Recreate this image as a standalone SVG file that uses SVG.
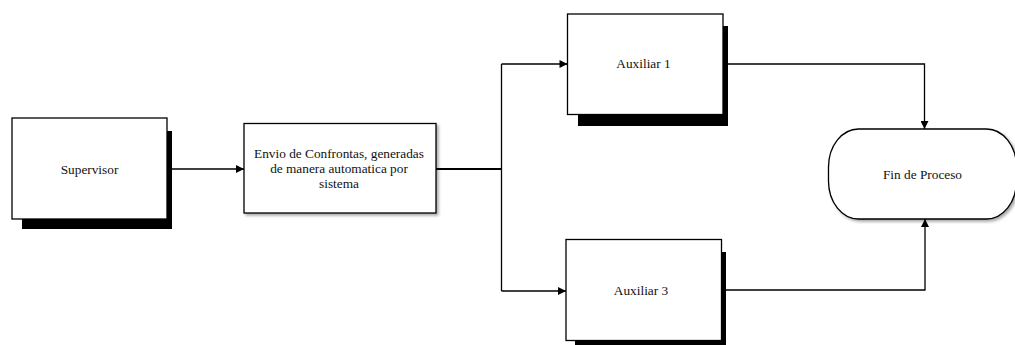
<svg xmlns="http://www.w3.org/2000/svg" width="1015" height="345" viewBox="0 0 1015 345">
  <style>
    .box { fill: #ffffff; stroke: #000000; stroke-width: 1.3; }
    .shadow { fill: #000000; }
    .label { font-family: "Liberation Serif", "Times New Roman", serif; font-size: 13.3px; fill: #111111; text-anchor: middle; }
    .wire { fill: none; stroke: #000000; stroke-width: 1.3; }
    .wire-bold { fill: none; stroke: #000000; stroke-width: 2; }
  </style>
  <defs>
    <marker id="arrow" viewBox="0 0 10 10" refX="10" refY="5" markerUnits="userSpaceOnUse" markerWidth="9" markerHeight="8" orient="auto">
      <path d="M0,0 L10,5 L0,10 Z" fill="#000000"/>
    </marker>
    <filter id="soft" x="-10%" y="-10%" width="130%" height="140%">
      <feGaussianBlur in="SourceAlpha" stdDeviation="1.5"/>
      <feOffset dx="2" dy="2" result="b"/>
      <feComponentTransfer><feFuncA type="linear" slope="0.35"/></feComponentTransfer>
      <feMerge><feMergeNode/><feMergeNode in="SourceGraphic"/></feMerge>
    </filter>
  </defs>

  <rect width="1015" height="345" fill="#ffffff"/>

  <!-- connectors -->
  <g id="connectors">
    <path class="wire" d="M167,169 H244" marker-end="url(#arrow)"/>
    <path class="wire-bold" d="M436,169 H501.5"/>
    <path class="wire" d="M501.5,64 V291"/>
    <path class="wire" d="M501.5,64 H567.5" marker-end="url(#arrow)"/>
    <path class="wire" d="M501.5,291 H566" marker-end="url(#arrow)"/>
    <path class="wire" d="M728,64 H924.5 V129" marker-end="url(#arrow)"/>
    <path class="wire" d="M726,290 H925 V219" marker-end="url(#arrow)"/>
  </g>

  <!-- Supervisor -->
  <g id="supervisor">
    <rect class="shadow" x="22" y="131" width="150" height="98"/>
    <rect class="box" x="12" y="118" width="155" height="101"/>
    <text class="label" x="89.5" y="173.5">Supervisor</text>
  </g>

  <!-- Envio de Confrontas -->
  <g id="envio">
    <rect class="box" x="244" y="123.5" width="192" height="89.5" filter="url(#soft)"/>
    <text class="label" x="339" y="157.5">Envio de Confrontas, generadas</text>
    <text class="label" x="339" y="173">de manera automatica por</text>
    <text class="label" x="339" y="188">sistema</text>
  </g>

  <!-- Auxiliar 1 -->
  <g id="auxiliar1">
    <rect class="shadow" x="578" y="26" width="150" height="100"/>
    <rect class="box" x="567.5" y="14" width="155.5" height="100.5"/>
    <text class="label" x="643.5" y="67.5">Auxiliar 1</text>
  </g>

  <!-- Auxiliar 3 -->
  <g id="auxiliar3">
    <rect class="shadow" x="575" y="252" width="151" height="100"/>
    <rect class="box" x="566" y="239.5" width="155.5" height="101"/>
    <text class="label" x="641" y="295">Auxiliar 3</text>
  </g>

  <!-- Fin de Proceso -->
  <g id="fin">
    <rect class="box" x="828.5" y="129" width="188" height="90" rx="30" ry="38" filter="url(#soft)"/>
    <text class="label" x="922.5" y="178.5">Fin de Proceso</text>
  </g>
</svg>
